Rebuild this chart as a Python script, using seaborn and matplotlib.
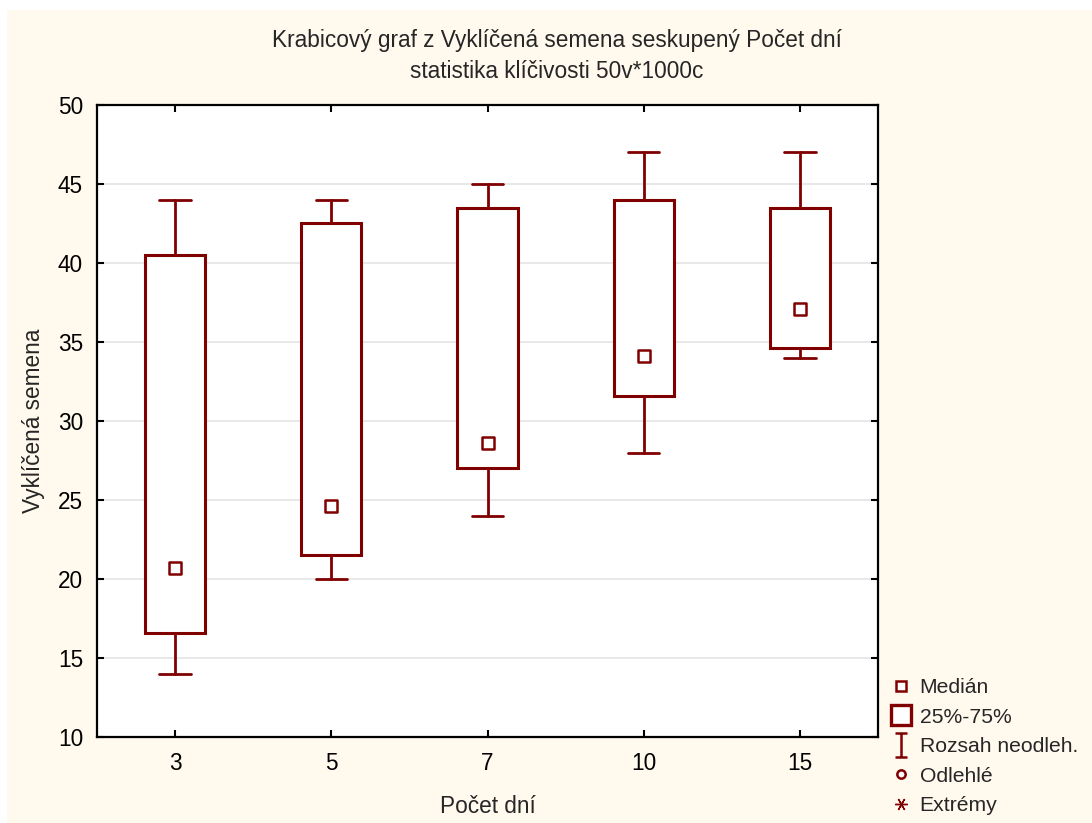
import matplotlib
matplotlib.use("Agg")
import matplotlib.pyplot as plt
import seaborn as sns
import numpy as np
from matplotlib.lines import Line2D
from matplotlib.path import Path
from matplotlib.patches import Rectangle

# ---- data ----
categories = ["3", "5", "7", "10", "15"]
medians = [20.7, 24.6, 28.6, 34.1, 37.1]
q1 = [16.6, 21.5, 27.0, 31.6, 34.6]
q3 = [40.5, 42.5, 43.5, 44.0, 43.5]
whisk_lo = [14.0, 20.0, 24.0, 28.0, 34.0]
whisk_hi = [44.0, 44.0, 45.0, 47.0, 47.0]
yticks = [10, 15, 20, 25, 30, 35, 40, 45, 50]

title_line1 = "Krabicový graf z Vyklíčená semena seskupený Počet dní"
title_line2 = "statistika klíčivosti 50v*1000c"
xlabel = "Počet dní"
ylabel = "Vyklíčená semena"
legend_labels = ["Medián", "25%-75%", "Rozsah neodleh.", "Odlehlé", "Extrémy"]

# ---- style ----
sns.set_style("white")
plt.rcParams["font.family"] = ["Liberation Sans", "DejaVu Sans"]
RED = "#800000"
CREAM = "#FFF9EE"
FS = 16.3
LFS = 15.2

fig = plt.figure(figsize=(10.92, 8.23), dpi=100)
fig.patch.set_facecolor("white")
fig.patches.append(Rectangle((7 / 1092, 0), 1, (823 - 10) / 823, transform=fig.transFigure,
                             facecolor=CREAM, edgecolor="none", zorder=-10))

ax = fig.add_axes([97 / 1092, (823 - 737) / 823, (878 - 97) / 1092, (737 - 105) / 823])
ax.set_facecolor("white")

pos = np.arange(len(categories))
stats = []
for i in range(len(categories)):
    stats.append(dict(med=medians[i], q1=q1[i], q3=q3[i],
                      whislo=whisk_lo[i], whishi=whisk_hi[i], fliers=[]))
ax.bxp(stats, positions=pos, widths=0.385, showfliers=False, patch_artist=True,
       boxprops=dict(facecolor="white", edgecolor=RED, linewidth=2.2),
       whiskerprops=dict(color=RED, linewidth=2),
       capprops=dict(color=RED, linewidth=2),
       medianprops=dict(visible=False),
       capwidths=0.2, manage_ticks=False)

sns.scatterplot(x=pos, y=medians, marker="s", s=64, facecolor="white",
                edgecolor=RED, linewidth=1.8, ax=ax, zorder=5, legend=False)

ax.set_xlim(-0.5, len(categories) - 0.5)
ax.set_ylim(10, 50)
ax.set_xticks(pos)
ax.set_xticklabels(categories)
ax.set_yticks(yticks)
ax.yaxis.grid(True, color="#E4E4E4", linewidth=1.2)
ax.set_axisbelow(True)
for s in ax.spines.values():
    s.set_visible(True)
    s.set_color("black")
    s.set_linewidth(1.6)
ax.tick_params(axis="both", direction="in", length=5, width=1.5, labelsize=FS,
               top=True, right=True, bottom=True, left=True, pad=10, colors="black")
ax.tick_params(axis="x", pad=11)

ax.set_xlabel(xlabel, fontsize=FS, labelpad=14)
ax.set_ylabel(ylabel, fontsize=FS, labelpad=9)
fig.text(557 / 1092, 1 - 40 / 823, title_line1, ha="center", va="center", fontsize=FS)
fig.text(557 / 1092, 1 - 72 / 823, title_line2, ha="center", va="center", fontsize=FS)

# legend
ibeam = Path([(-0.55, 1), (0.55, 1), (0, 1), (0, -1), (-0.55, -1), (0.55, -1)],
             [Path.MOVETO, Path.LINETO, Path.MOVETO, Path.LINETO, Path.MOVETO, Path.LINETO])
handles = [
    Line2D([], [], linestyle="none", marker="s", markersize=7, markerfacecolor="white",
           markeredgecolor=RED, markeredgewidth=1.8),
    Line2D([], [], linestyle="none", marker="s", markersize=14, markerfacecolor="white",
           markeredgecolor=RED, markeredgewidth=2.4),
    Line2D([], [], linestyle="none", marker=ibeam, markersize=17, markerfacecolor="none",
           markeredgecolor=RED, markeredgewidth=1.8),
    Line2D([], [], linestyle="none", marker="o", markersize=6, markerfacecolor="white",
           markeredgecolor=RED, markeredgewidth=1.8),
    Line2D([], [], linestyle="none", marker=(6, 2, 90), markersize=9,
           markeredgecolor=RED, markeredgewidth=1),
]
fig.legend(handles, legend_labels, loc="upper left", bbox_to_anchor=(890 / 1092, 1 - 678 / 823),
           frameon=False, fontsize=LFS, handlelength=1.0, handletextpad=0.4,
           labelspacing=0.5, borderpad=0, borderaxespad=0)

fig.savefig("out.png", dpi=100, facecolor=fig.get_facecolor())
